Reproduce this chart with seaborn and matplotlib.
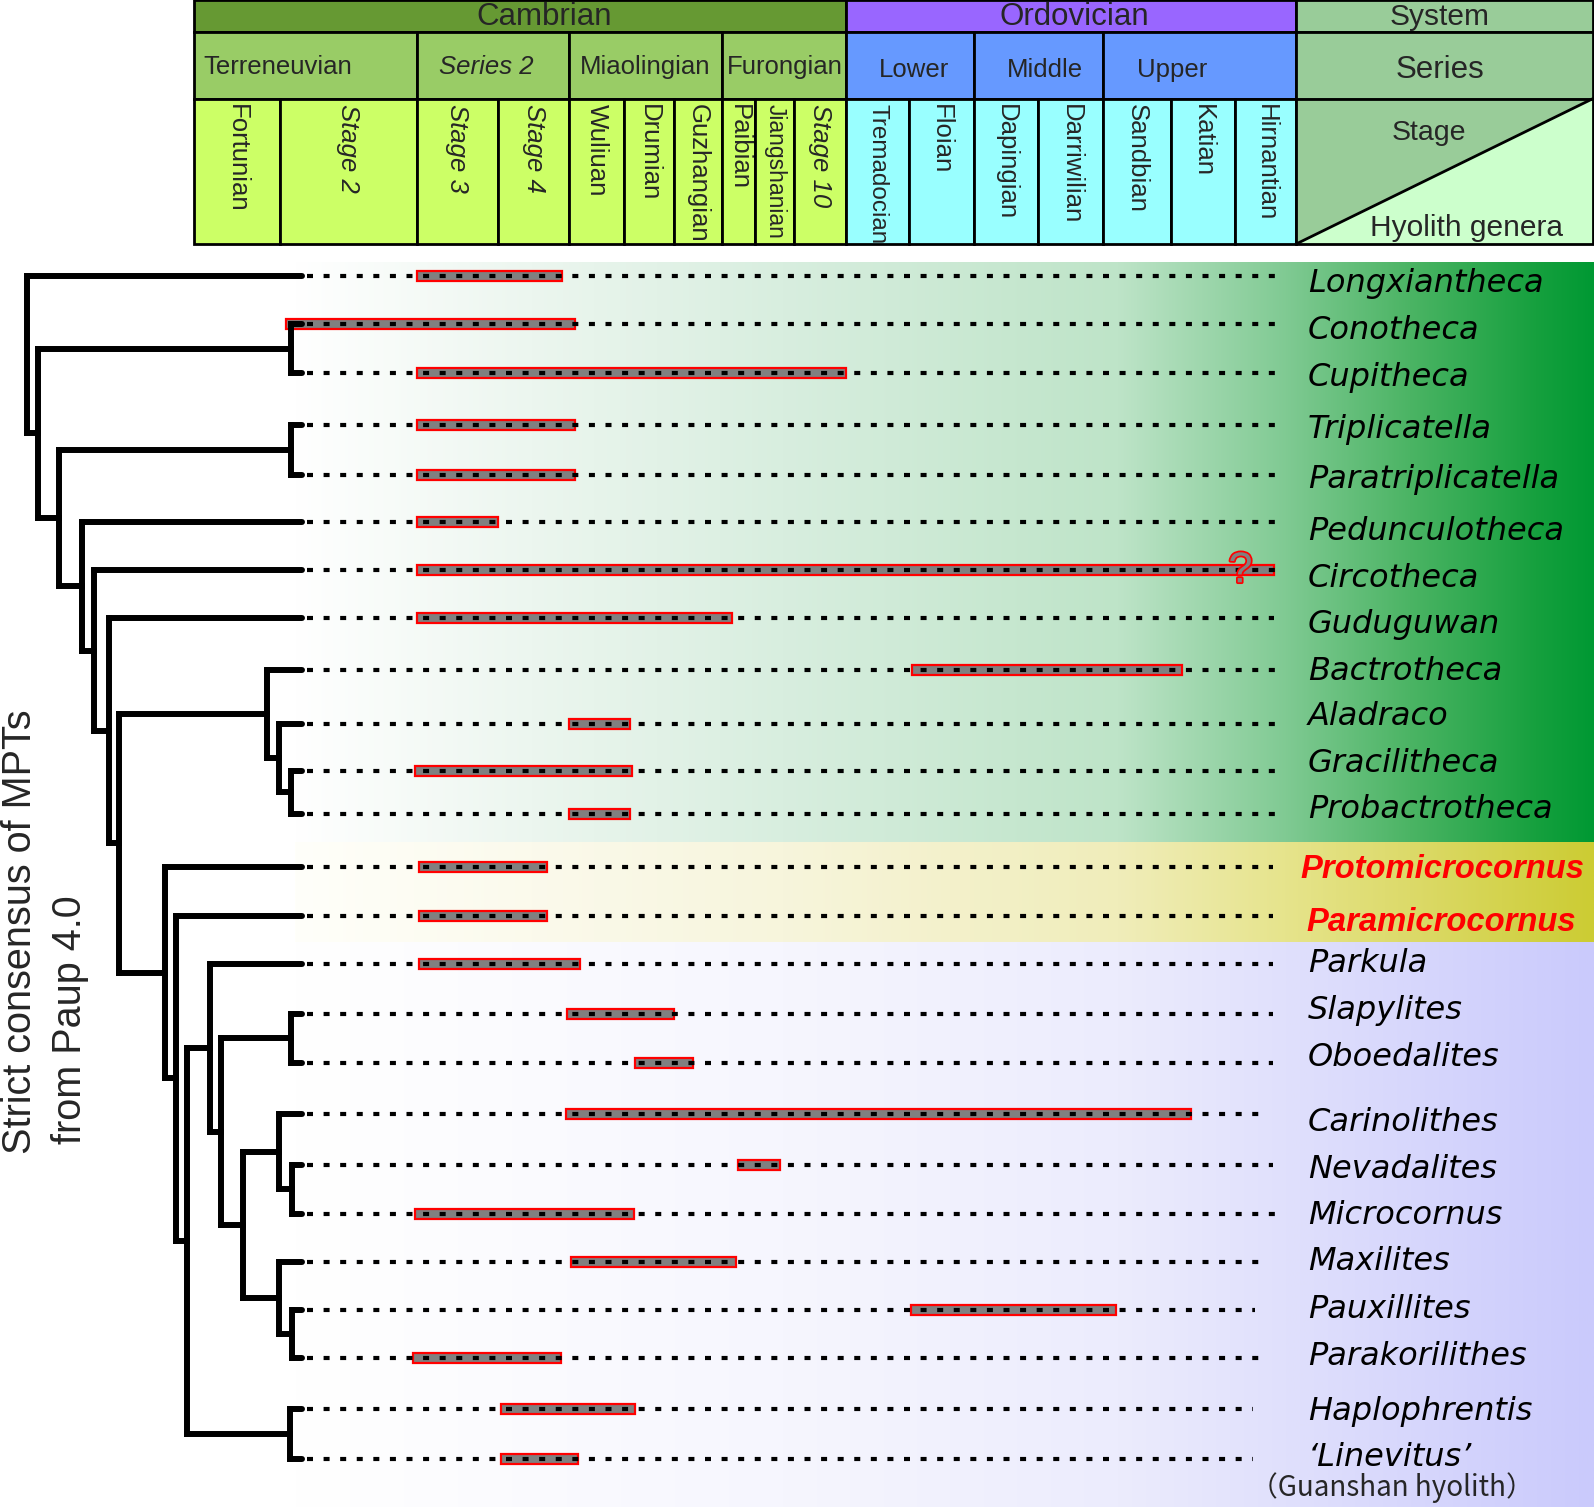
import numpy as np
import matplotlib
matplotlib.use("Agg")
import matplotlib.pyplot as plt
import seaborn as sns
from matplotlib.patches import Rectangle, Polygon
import matplotlib.patheffects as pe

sns.set_theme(style="white")
plt.rcParams['font.family'] = ['DejaVu Sans']

# ---------------- data ----------------
systems = ["Cambrian", "Ordovician"]
system_span = [(0, 10), (10, 17)]
series = ["Terreneuvian", "Series 2", "Miaolingian", "Furongian", "Lower", "Middle", "Upper"]
series_span = [(0, 2), (2, 4), (4, 7), (7, 10), (10, 12), (12, 14), (14, 17)]
stages = ["Fortunian", "Stage 2", "Stage 3", "Stage 4", "Wuliuan", "Drumian", "Guzhangian",
          "Paibian", "Jiangshanian", "Stage 10", "Tremadocian", "Floian", "Dapingian",
          "Darriwilian", "Sandbian", "Katian", "Hirnantian"]

taxa = ["Longxiantheca", "Conotheca", "Cupitheca", "Triplicatella", "Paratriplicatella",
        "Pedunculotheca", "Circotheca", "Guduguwan", "Bactrotheca", "Aladraco", "Gracilitheca",
        "Probactrotheca", "Protomicrocornus", "Paramicrocornus", "Parkula", "Slapylites",
        "Oboedalites", "Carinolithes", "Nevadalites", "Microcornus", "Maxilites", "Pauxillites",
        "Parakorilithes", "Haplophrentis", "\u2018Linevitus\u2019"]
highlight = ["Protomicrocornus", "Paramicrocornus"]
# stratigraphic ranges in stage units (0 = base of Fortunian, 17 = top of Hirnantian)
range_start = [2.0, 1.05, 2.0, 2.0, 2.0, 2.0, 2.0, 2.0, 11.05, 4.0, 1.99, 4.0, 2.03, 2.03,
               2.03, 3.97, 5.22, 3.95, 7.49, 1.99, 4.04, 11.03, 1.97, 3.04, 3.04]
range_end = [3.9, 4.1, 10.0, 4.1, 4.1, 3.0, 16.63, 7.3, 15.17, 5.12, 5.16, 5.12, 3.69, 3.69,
             4.19, 6.0, 6.4, 15.31, 8.63, 5.19, 7.41, 14.19, 3.88, 5.21, 4.16]
uncertain_top = ["Circotheca"]

# tree topology (taxon indices)
G = [8, [9, [10, 11]]]
N = [[17, [18, 19]], [20, [21, 22]]]
J = [[14, [[15, 16], N]], [23, 24]]
H = [12, [13, J]]
tree = [0, [[1, 2], [[3, 4], [5, [6, [7, [G, H]]]]]]]

# ---------------- layout ----------------
bounds = [194.2, 279.6, 416.8, 498.1, 569.3, 624.2, 674.0, 721.8, 755.3, 794.0, 845.8,
          908.8, 973.9, 1037.9, 1103.0, 1171.1, 1235.1, 1296.1]
rows_y = [275.5, 324.3, 373, 425, 474.7, 521.5, 570.3, 618, 670, 723.8, 770.6, 814.3, 867.1,
          916, 963.7, 1013.5, 1063.3, 1114.2, 1165, 1213.8, 1261.6, 1310.4, 1358, 1409, 1458.8]
label_y = [280.6, 327.3, 374, 426, 476.8, 528.6, 575.4, 621.1, 668.9, 713.6, 760.4, 806.1,
           866.1, 919, 960.7, 1007.4, 1054.2, 1119.3, 1166, 1212.8, 1258.5, 1306.3, 1353.1,
           1408, 1454.7]
line_end = [1276, 1278, 1276, 1276, 1276, 1276, 1276, 1274, 1283, 1283, 1283, 1283, 1273,
            1273, 1273, 1273, 1273, 1265, 1273, 1275, 1263, 1255, 1260, 1253, 1253]
node_x = [27, 38, 291, 59, 291, 82, 94, 109, 118.6, 267, 279, 291, 165, 176, 187.5, 210,
          221, 291, 243, 279, 292, 279, 292, 290]
TIP_X = 302
LINE_X0 = 307
W, Hh = 1594, 1507

fig = plt.figure(figsize=(W / 100, Hh / 100), dpi=100)
ax = fig.add_axes([0, 0, 1, 1])
ax.set_facecolor('white')


def to_px(u):
    return np.interp(u, np.arange(len(bounds)), bounds)


# ---------------- background gradients ----------------
def gradient(x0, x1, y0, y1, stops):
    xs = np.linspace(x0, x1, 800)
    sx = [s[0] for s in stops]
    cols = np.stack([np.interp(xs, sx, [s[1][k] for s in stops]) for k in range(3)], axis=-1) / 255
    ax.imshow(cols[None, :, :], extent=[x0, x1, y1, y0], aspect='auto',
              interpolation='bilinear', zorder=0)


gradient(295, W, 262, 842, [(295, (255, 255, 255)), (531, (236, 246, 239)), (783, (216, 238, 223)),
                             (1118, (190, 228, 200)), (1286, (128, 202, 147)), (1411, (75, 180, 100)),
                             (1537, (22, 160, 62)), (W, (0, 153, 51))])
gradient(295, W, 842, 942, [(295, (255, 255, 250)), (531, (251, 250, 236)), (783, (247, 245, 220)),
                             (1118, (240, 237, 186)), (1286, (230, 228, 140)), (1411, (220, 218, 105)),
                             (W, (204, 204, 51))])
gradient(295, W, 942, Hh, [(295, (255, 255, 255)), (783, (246, 246, 254)), (1118, (236, 236, 253)),
                            (1286, (224, 224, 252)), (W, (202, 202, 252))])

# ---------------- header ----------------
Y0, Y1, Y2, Y3 = 0, 31.5, 98.6, 244
cols_sys = ['#669933', '#9966FF']
cols_ser = ['#99CC66', '#6699FF']
cols_stg = ['#CCFF66', '#99FFFF']
HLW = 2.0
sys_label_x = [544, 1074]
for k, (name, (a, b)) in enumerate(zip(systems, system_span)):
    ax.add_patch(Rectangle((bounds[a], Y0), bounds[b] - bounds[a], Y1 - Y0, facecolor=cols_sys[k],
                           edgecolor='black', lw=HLW, zorder=2))
    ax.text(sys_label_x[k], 17, name, ha='center', va='center', fontsize=22.5,
            family='Liberation Sans', zorder=3)

ser_label_x = [203, 486, 645.5, 785, 914, 1045, 1172]
for k, (name, (a, b)) in enumerate(zip(series, series_span)):
    sysk = 0 if b <= 10 else 1
    ax.add_patch(Rectangle((bounds[a], Y1), bounds[b] - bounds[a], Y2 - Y1, facecolor=cols_ser[sysk],
                           edgecolor='black', lw=HLW, zorder=2))
    ax.text(ser_label_x[k], 67 if sysk == 0 else 70, name, ha='left' if k == 0 else 'center',
            va='center', fontsize=18.5, family='Liberation Sans',
            style='italic' if name.startswith('Series') else 'normal', zorder=3)

for k, name in enumerate(stages):
    sysk = 0 if k < 10 else 1
    ax.add_patch(Rectangle((bounds[k], Y2), bounds[k + 1] - bounds[k], Y3 - Y2, facecolor=cols_stg[sysk],
                           edgecolor='black', lw=HLW, zorder=2))
    fs = 18.5
    if name == 'Jiangshanian':
        fs = 16.5
    elif name == 'Tremadocian':
        fs = 17.5
    ax.text((bounds[k] + bounds[k + 1]) / 2, 104, name, rotation=270, ha='center', va='top',
            fontsize=fs, family='Liberation Sans',
            style='italic' if name.startswith('Stage') else 'normal', zorder=3)

# right-hand legend column
XR0, XR1 = bounds[-1], 1593
ax.add_patch(Rectangle((XR0, Y0), XR1 - XR0, Y1 - Y0, facecolor='#99CC99', edgecolor='black', lw=HLW, zorder=2))
ax.add_patch(Rectangle((XR0, Y1), XR1 - XR0, Y2 - Y1, facecolor='#99CC99', edgecolor='black', lw=HLW, zorder=2))
ax.add_patch(Polygon([(XR0, Y2), (XR1, Y2), (XR0, Y3)], closed=True, facecolor='#99CC99', lw=0, zorder=2))
ax.add_patch(Polygon([(XR1, Y2), (XR1, Y3), (XR0, Y3)], closed=True, facecolor='#CCFFCC', lw=0, zorder=2))
ax.add_patch(Rectangle((XR0, Y2), XR1 - XR0, Y3 - Y2, facecolor='none', edgecolor='black', lw=HLW, zorder=3))
ax.plot([XR0, XR1], [Y3, Y2], color='black', lw=HLW, zorder=3)
ax.text(1440, 17, "System", ha='center', va='center', fontsize=21.5, family='Liberation Sans', zorder=4)
ax.text(1440, 70, "Series", ha='center', va='center', fontsize=22.5, family='Liberation Sans', zorder=4)
ax.text(1429, 133, "Stage", ha='center', va='center', fontsize=20.5, family='Liberation Sans', zorder=4)
ax.text(1467, 228, "Hyolith genera", ha='center', va='center', fontsize=21.5, family='Liberation Sans', zorder=4)

# ---------------- tree ----------------
TLW = 4.3
xit = iter(node_x)


def draw(node):
    x = next(xit)
    kids = []
    for ch in node:
        if isinstance(ch, int):
            kids.append((rows_y[ch], TIP_X, True))
        else:
            cy, cx = draw(ch)
            kids.append((cy, cx, False))
    ys = [k[0] for k in kids]
    ax.plot([x, x], [min(ys), max(ys)], color='black', lw=TLW, solid_capstyle='projecting', zorder=5)
    for cy, cx, leaf in kids:
        ax.plot([x, cx], [cy, cy], color='black', lw=TLW,
                solid_capstyle='round' if leaf else 'projecting', zorder=5)
    return (min(ys) + max(ys)) / 2, x


draw(tree)

# ---------------- ranges, dotted lines, labels ----------------
x0s = to_px(np.array(range_start))
x1s = to_px(np.array(range_end))
ax.barh(rows_y, x1s - x0s, left=x0s, height=10, color='#808080', edgecolor='#FF0000',
        linewidth=1.6, zorder=3)
for i, name in enumerate(taxa):
    ax.plot([LINE_X0, line_end[i]], [rows_y[i], rows_y[i]], color='black', lw=3.0,
            dashes=(1.44, 2.54), dash_capstyle='butt', zorder=4)
    if name in highlight:
        ax.text(1300 if name.startswith('Proto') else 1306, label_y[i] + 12, name, ha='left',
                va='baseline', fontsize=23.6, family='Liberation Sans', style='italic',
                weight='bold', color='#FF0000', zorder=6)
    else:
        ax.text(1308, label_y[i] + 11.6, name, ha='left', va='baseline', fontsize=23,
                style='italic', color='black', zorder=6)
    if name in uncertain_top:
        ax.text(x1s[i] - 33, rows_y[i] + 12, '?', ha='center', va='baseline', fontsize=31,
                family='Liberation Sans', color='#808080',
                path_effects=[pe.withStroke(linewidth=2.5, foreground='#FF0000')], zorder=6)

ax.text(1392, 1488, "\uff08Guanshan hyolith\uff09", ha='center', va='center', fontsize=20,
        family=['Noto Sans CJK SC', 'DejaVu Sans'], zorder=6)

# left caption
ax.text(20, 1154, "Strict consensus of MPTs", rotation=90, ha='center', va='bottom',
        fontsize=28.5, family='Liberation Sans', zorder=6)
ax.text(70, 1144, "from Paup 4.0", rotation=90, ha='center', va='bottom',
        fontsize=28.5, family='Liberation Sans', zorder=6)

ax.set_xlim(0, W)
ax.set_ylim(Hh, 0)
ax.axis('off')
fig.savefig("out.png", dpi=100)
